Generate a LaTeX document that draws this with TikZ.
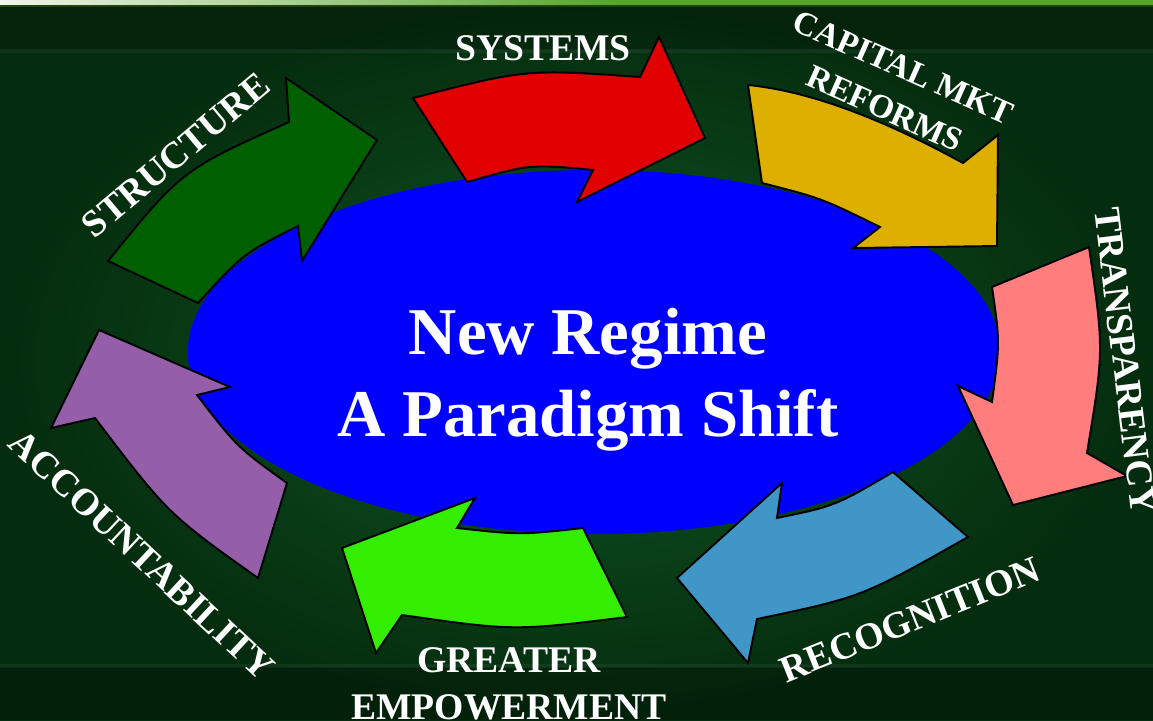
\documentclass[tikz,border=0pt]{standalone}
\usepackage{fontspec}
\setmainfont{Liberation Serif}

\definecolor{bgin}{RGB}{16,86,34}
\definecolor{bgout}{RGB}{4,44,14}
\definecolor{barwhite}{RGB}{240,244,234}
\definecolor{bargreen}{RGB}{84,165,42}
\definecolor{regime}{RGB}{0,0,255}
\definecolor{sysred}{RGB}{224,0,0}
\definecolor{capgold}{RGB}{221,176,0}
\definecolor{transpink}{RGB}{255,125,125}
\definecolor{recblue}{RGB}{65,150,200}
\definecolor{empgreen}{RGB}{51,238,0}
\definecolor{accpurple}{RGB}{148,94,168}
\definecolor{strgreen}{RGB}{0,96,0}

\begin{document}
\begin{tikzpicture}[x=0.01cm,y=-0.01cm]
    \tikzstyle{cyclearrow}=[draw=black,line width=0.55pt,line join=miter]
    \tikzstyle{word}=[text=white,font=\fontsize{10.7}{13.4}\selectfont\bfseries,inner sep=0pt,align=center]
    \tikzstyle{headline}=[text=white,font=\fontsize{19}{23.3}\selectfont\bfseries,inner sep=0pt,align=center]

    \useasboundingbox (0,0) rectangle (1153,720);

    % backdrop
    \shade[inner color=bgin,outer color=bgout] (0,0) rectangle (1153,720);
    \fill[black,opacity=.18] (0,6) rectangle (1153,50);
    \fill[black,opacity=.25] (0,667) rectangle (1153,720);
    \fill[white,opacity=.05] (0,49) rectangle (1153,53);
    \fill[white,opacity=.05] (0,664) rectangle (1153,668);
    \shade[left color=barwhite,right color=bargreen] (0,0) rectangle (620,5);
    \fill[bargreen] (620,0) rectangle (1153,5);
    \fill[black!60!bargreen] (0,5) rectangle (1153,6.5);

    % centre
    \fill[regime] (594,352) ellipse [x radius=4.06cm,y radius=1.82cm];

    % the eight arrows, clockwise from the top
    \filldraw[cyclearrow,fill=sysred] (413,98) .. controls (526,69) .. (640,77) -- (659,37)
      -- (705,138) -- (577,202) -- (593,170) .. controls (530,164) .. (467,182) -- cycle;
    \filldraw[cyclearrow,fill=capgold] (748,85) .. controls (808,91) and (879,117) .. (963,163) -- (998,135)
      -- (997,246) -- (853,248) -- (880,227) .. controls (821,198) .. (762,183) -- cycle;
    \filldraw[cyclearrow,fill=transpink] (992,402) .. controls (1000,342) .. (992,287) -- (1089,247)
      .. controls (1104,350) .. (1087,453) -- (1127,476) -- (1013,505) -- (958,386) -- cycle;
    \filldraw[cyclearrow,fill=recblue] (777,518) .. controls (835,506) .. (893,472) -- (968,537)
      .. controls (862,597) .. (757,619) -- (748,663) -- (677,578) -- (782,483) -- cycle;
    \filldraw[cyclearrow,fill=empgreen] (457,528) .. controls (520,535) .. (583,528) -- (627,617)
      .. controls (514,631) .. (402,615) -- (376,653) -- (342,548) -- (475,498) -- cycle;
    \filldraw[cyclearrow,fill=accpurple] (197,395) .. controls (237,447) .. (287,483) -- (258,578)
      .. controls (168,514) .. (95,418) -- (51,428) -- (99,330) -- (230,387) -- cycle;
    \filldraw[cyclearrow,fill=strgreen] (289,122) .. controls (182,170) .. (108,261) -- (198,303)
      .. controls (244,253) .. (298,226) -- (302,261) -- (377,140) -- (286,78) -- cycle;

    % labels
    \node[word] (systems) at (543,48) {SYSTEMS};
    \node[word,font=\fontsize{9.5}{12.8}\selectfont\bfseries,rotate=-24] (capital) at (894,88) {CAPITAL MKT\\REFORMS};
    \node[word,rotate=-83] (transparency) at (1125,361) {TRANSPARENCY};
    \node[word,rotate=22] (recognition) at (910,620) {RECOGNITION};
    \node[word] (empowerment) at (509,684) {GREATER\\EMPOWERMENT};
    \node[word,rotate=-43] (accountability) at (142,555) {ACCOUNTABILITY};
    \node[word,rotate=40] (structure) at (176,155) {STRUCTURE};

    \node[headline] (shift) at (588,380) {New Regime\\A Paradigm Shift};
\end{tikzpicture}
\end{document}
